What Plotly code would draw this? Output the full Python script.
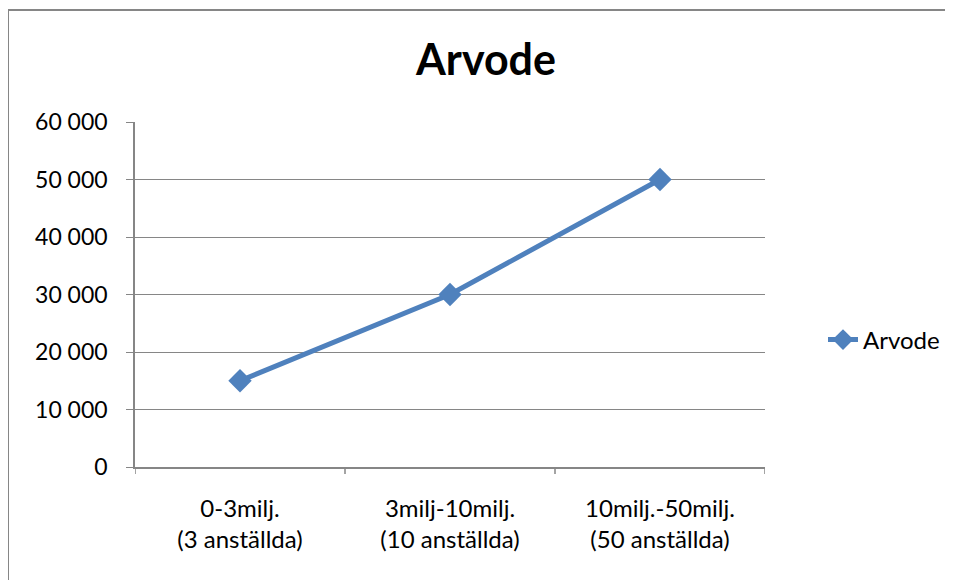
import plotly.graph_objects as go

categories = ["0-3milj.<br>(3 anställda)", "3milj-10milj.<br>(10 anställda)", "10milj.-50milj.<br>(50 anställda)"]
values = [15000, 30000, 50000]
series_name = "Arvode"
y_ticks = [0, 10000, 20000, 30000, 40000, 50000, 60000]
y_tick_labels = ["0", "10 000", "20 000", "30 000", "40 000", "50 000", "60 000"]

FONT = "Lato, Calibri, Carlito, sans-serif"
GRID = "#868686"
BLUE = "#4F81BD"

OFF = 8  # page body margin
W, H = 953 - OFF, 580 - OFF
# plot area in page pixels: x 135..765, y 122..467
L = 135 - OFF
T = 122 - OFF
R = W - (765 - OFF)
B = H - (467 - OFF)
pw, ph = W - L - R, H - T - B

def px_x(x):
    return (x - OFF - L) / pw

def px_y(y):
    return (H - B - (y - OFF)) / ph

fig = go.Figure()
fig.add_trace(go.Scatter(
    x=[0, 1, 2], y=values, name=series_name, mode="lines+markers",
    line=dict(color=BLUE, width=5),
    marker=dict(symbol="diamond", size=18, color=BLUE),
))

fig.update_layout(
    width=W, height=H,
    margin=dict(l=L, r=R, t=T, b=B, autoexpand=False),
    paper_bgcolor="white", plot_bgcolor="white",
    font=dict(family=FONT, size=23, color="black"),
    title=dict(text="<b>Arvode</b>", x=px_x(486), xref="paper", xanchor="center",
               y=1 - (60 - OFF) / H, yanchor="middle", font=dict(size=43, family=FONT)),
    showlegend=True,
    legend=dict(x=(823 - OFF) / W, y=1 - (340 - OFF) / H, xref="container", yref="container",
                xanchor="left", yanchor="middle",
                font=dict(size=24, family=FONT), bgcolor="rgba(0,0,0,0)"),
    xaxis=dict(
        range=[-0.5, 2.5], tickmode="array", tickvals=[0, 1, 2], ticktext=categories,
        showgrid=False, zeroline=False, showline=True, linecolor=GRID, linewidth=1.5,
        ticks="", fixedrange=True, ticklabelstandoff=19, tickfont=dict(size=24),
        automargin=False,
    ),
    yaxis=dict(
        range=[0, 60000], tickmode="array", tickvals=y_ticks, ticktext=y_tick_labels,
        showgrid=True, gridcolor=GRID, gridwidth=1, zeroline=False,
        showline=True, linecolor=GRID, linewidth=1.5,
        ticks="outside", ticklen=7, tickcolor=GRID, ticklabelstandoff=14,
        automargin=False,
    ),
)

shapes = []
for xb in [-0.5, 0.5, 1.5, 2.5]:
    shapes.append(dict(type="line", xref="x", yref="paper", x0=xb, x1=xb,
                       y0=0, y1=-7 / ph, line=dict(color=GRID, width=1.5)))
# chart border: only left and top edges are inside the picture
shapes.append(dict(type="line", xref="paper", yref="paper",
                   x0=px_x(8), x1=px_x(8), y0=px_y(10), y1=px_y(600),
                   line=dict(color=GRID, width=2), layer="below"))
shapes.append(dict(type="line", xref="paper", yref="paper",
                   x0=px_x(8), x1=px_x(980), y0=px_y(10), y1=px_y(10),
                   line=dict(color=GRID, width=2), layer="below"))
fig.update_layout(shapes=shapes)

fig.write_html("out.html")
